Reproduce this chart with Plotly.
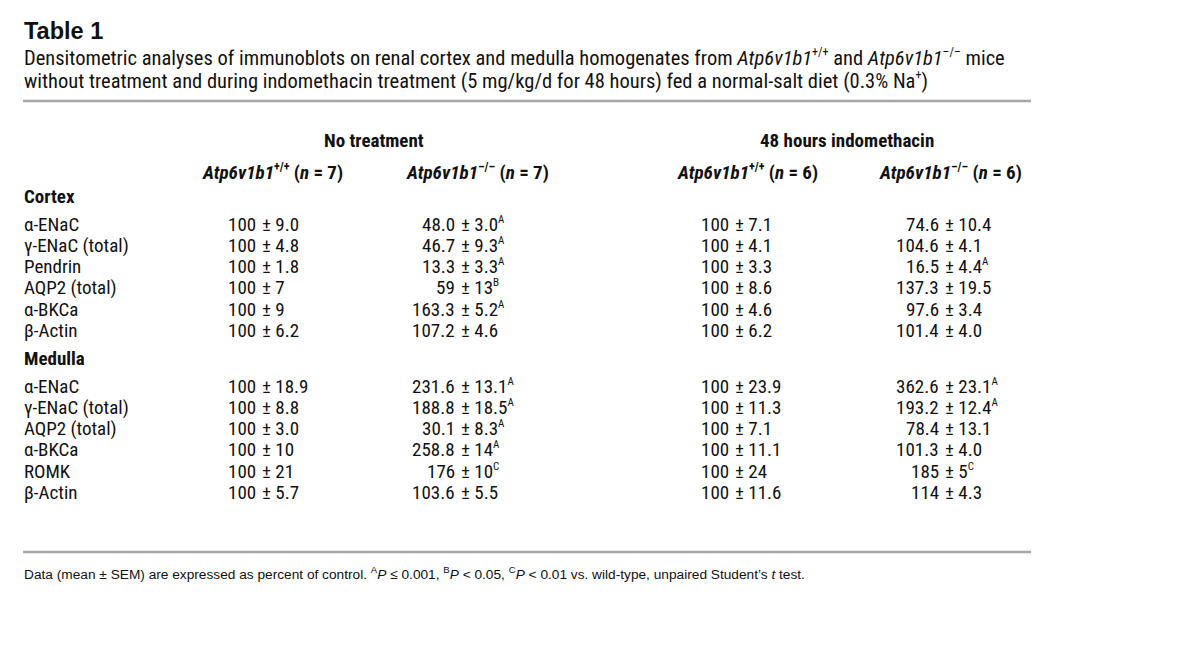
import plotly.graph_objects as go

def sup(s, px=12):
    return f"<sup><span style='font-size:{px}px'>{s}</span></sup>" if s else ""

# ---------------- data ----------------
title = "Table 1"
caption_lines = [
    "Densitometric analyses of immunoblots on renal cortex and medulla homogenates from <i>Atp6v1b1</i>"
    + sup("+/+") + " and <i>Atp6v1b1</i>" + sup("–/–") + " mice",
    "without treatment and during indomethacin treatment (5 mg/kg/d for 48 hours) fed a normal-salt diet (0.3% Na"
    + sup("+") + ")",
]
group_headers = ["No treatment", "48 hours indomethacin"]
col_headers = [
    "<i>Atp6v1b1</i>" + sup("+/+") + " (<i>n</i> = 7)",
    "<i>Atp6v1b1</i>" + sup("–/–") + " (<i>n</i> = 7)",
    "<i>Atp6v1b1</i>" + sup("+/+") + " (<i>n</i> = 6)",
    "<i>Atp6v1b1</i>" + sup("–/–") + " (<i>n</i> = 6)",
]
sections = ["Cortex", "Medulla"]

cortex_labels = ["α-ENaC", "γ-ENaC (total)", "Pendrin", "AQP2 (total)", "α-BKCa", "β-Actin"]
cortex_nt_wt_mean = ["100", "100", "100", "100", "100", "100"]
cortex_nt_wt_sem = ["9.0", "4.8", "1.8", "7", "9", "6.2"]
cortex_nt_ko_mean = ["48.0", "46.7", "13.3", "59", "163.3", "107.2"]
cortex_nt_ko_sem = ["3.0", "9.3", "3.3", "13", "5.2", "4.6"]
cortex_nt_ko_sig = ["A", "A", "A", "B", "A", ""]
cortex_in_wt_mean = ["100", "100", "100", "100", "100", "100"]
cortex_in_wt_sem = ["7.1", "4.1", "3.3", "8.6", "4.6", "6.2"]
cortex_in_ko_mean = ["74.6", "104.6", "16.5", "137.3", "97.6", "101.4"]
cortex_in_ko_sem = ["10.4", "4.1", "4.4", "19.5", "3.4", "4.0"]
cortex_in_ko_sig = ["", "", "A", "", "", ""]

medulla_labels = ["α-ENaC", "γ-ENaC (total)", "AQP2 (total)", "α-BKCa", "ROMK", "β-Actin"]
medulla_nt_wt_mean = ["100", "100", "100", "100", "100", "100"]
medulla_nt_wt_sem = ["18.9", "8.8", "3.0", "10", "21", "5.7"]
medulla_nt_ko_mean = ["231.6", "188.8", "30.1", "258.8", "176", "103.6"]
medulla_nt_ko_sem = ["13.1", "18.5", "8.3", "14", "10", "5.5"]
medulla_nt_ko_sig = ["A", "A", "A", "A", "C", ""]
medulla_in_wt_mean = ["100", "100", "100", "100", "100", "100"]
medulla_in_wt_sem = ["23.9", "11.3", "7.1", "11.1", "24", "11.6"]
medulla_in_ko_mean = ["362.6", "193.2", "78.4", "101.3", "185", "114"]
medulla_in_ko_sem = ["23.1", "12.4", "13.1", "4.0", "5", "4.3"]
medulla_in_ko_sig = ["A", "A", "", "", "C", ""]

footnote = ("Data (mean ± SEM) are expressed as percent of control. "
            "<sup>A</sup><i>P</i> ≤ 0.001, <sup>B</sup><i>P</i> &lt; 0.05, "
            "<sup>C</sup><i>P</i> &lt; 0.01 vs. wild-type, unpaired Student’s <i>t</i> test.")

# ---------------- layout constants ----------------
W, H = 1200, 658
OFF_X, OFF_Y = 9, 8                  # page body margin compensation
FONT = "Liberation Sans Narrow, Arial Narrow, Roboto Condensed, Liberation Sans, sans-serif"
FONT_WIDE = "Liberation Sans, Arial, Helvetica, sans-serif"
TXT = "#111111"
LEFT = 24
RIGHT = 1032
pm_x = [262, 461, 735, 945]          # x of the ± sign per value column
hdr_cx = [273, 478, 748, 951]        # centers of column headers
grp_cx = [375, 848]
row_dy = 21.3
BODY = 19

fig = go.Figure()
ann = []

def add(text, x, y, size=BODY, anchor="left", color=TXT, family=FONT):
    ann.append(dict(text=text, x=x, y=y, xref="x", yref="y", showarrow=False,
                    xanchor=anchor, yanchor="middle", borderpad=0,
                    font=dict(family=family, size=size, color=color)))

add("<b>" + title + "</b>", LEFT, 31, size=23.5, family=FONT_WIDE)
add(caption_lines[0], LEFT, 57, size=20.5)
add(caption_lines[1], LEFT, 80, size=20.5)

for gx, g in zip(grp_cx, group_headers):
    add("<b>" + g + "</b>", gx, 140, anchor="center")
for cx, h in zip(hdr_cx, col_headers):
    add("<b>" + h + "</b>", cx, 172, anchor="center")

def section(name, y0, labels, cols):
    add("<b>" + name + "</b>", LEFT, y0)
    for i, lab in enumerate(labels):
        y = y0 + 28 + i * row_dy
        add(lab, LEFT, y)
        for c, (means, sems, sigs) in enumerate(cols):
            add(means[i], pm_x[c] - 4, y, anchor="right")
            add("± " + sems[i] + sup(sigs[i], 11), pm_x[c], y, anchor="left")

blank = [""] * 6
section(sections[0], 196, cortex_labels, [
    (cortex_nt_wt_mean, cortex_nt_wt_sem, blank),
    (cortex_nt_ko_mean, cortex_nt_ko_sem, cortex_nt_ko_sig),
    (cortex_in_wt_mean, cortex_in_wt_sem, blank),
    (cortex_in_ko_mean, cortex_in_ko_sem, cortex_in_ko_sig),
])
section(sections[1], 358, medulla_labels, [
    (medulla_nt_wt_mean, medulla_nt_wt_sem, blank),
    (medulla_nt_ko_mean, medulla_nt_ko_sem, medulla_nt_ko_sig),
    (medulla_in_wt_mean, medulla_in_wt_sem, blank),
    (medulla_in_ko_mean, medulla_in_ko_sem, medulla_in_ko_sig),
])

add(footnote, LEFT, 573, size=13.7, family=FONT_WIDE)

shapes = [
    dict(type="line", x0=LEFT, x1=RIGHT, y0=101, y1=101, xref="x", yref="y",
         line=dict(color="#a6a6a6", width=2.5)),
    dict(type="line", x0=LEFT, x1=RIGHT, y0=552, y1=552, xref="x", yref="y",
         line=dict(color="#a6a6a6", width=2.5)),
]

fig.update_layout(
    width=W, height=H, margin=dict(l=0, r=0, t=0, b=0),
    paper_bgcolor="white", plot_bgcolor="white",
    xaxis=dict(range=[OFF_X, W + OFF_X], visible=False, fixedrange=True),
    yaxis=dict(range=[H + OFF_Y, OFF_Y], visible=False, fixedrange=True),
    annotations=ann, shapes=shapes, showlegend=False,
)
fig.write_html("out.html")
